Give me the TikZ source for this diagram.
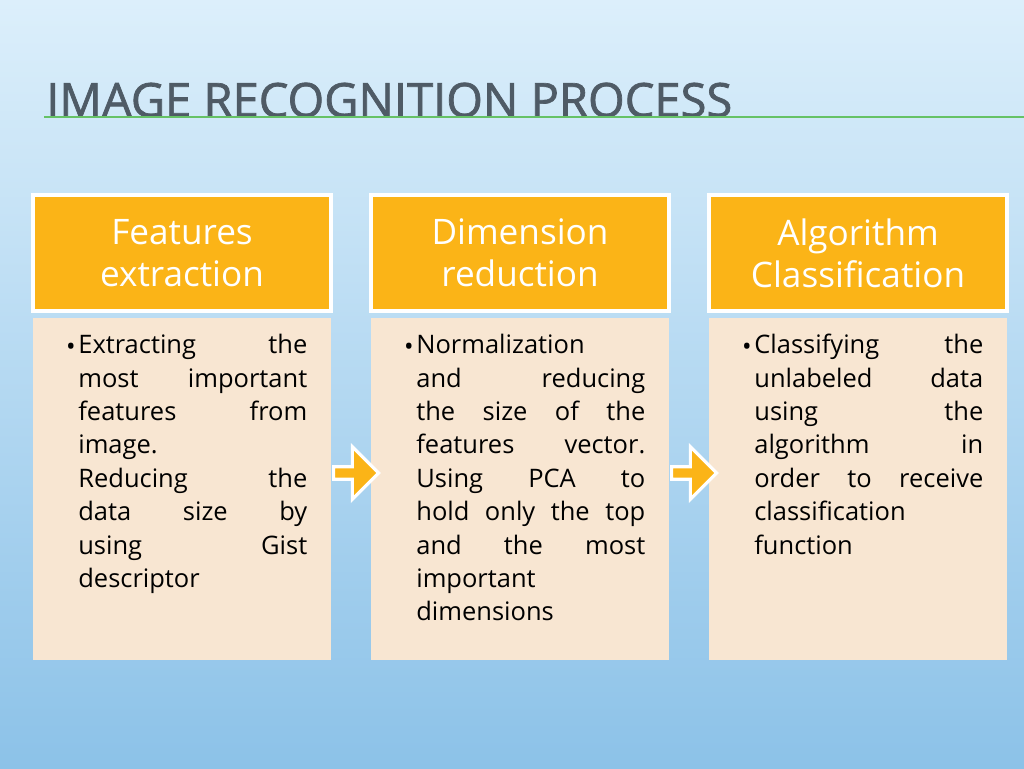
\documentclass[tikz,border=0pt]{standalone}
\usepackage{fontspec}
\setmainfont{Open Sans}
\usetikzlibrary{positioning,shapes.arrows}
\definecolor{hdrorange}{HTML}{FBB417}
\definecolor{bodypeach}{HTML}{F8E6D2}
\definecolor{titlegrey}{HTML}{4F5B66}
\definecolor{bgtop}{HTML}{DCEFFB}
\definecolor{bgbot}{HTML}{8CC2E8}
\tikzset{
  hdrbox/.style={draw=white, line width=2.5pt, fill=hdrorange, minimum width=5.96cm, minimum height=2.32cm,
    text=white, align=center, font=\fontsize{20}{24}\selectfont},
  bodybox/.style={fill=bodypeach, minimum width=5.96cm, minimum height=6.84cm},
  bodytext/.style={text width=4.58cm, align=justify, font=\fontsize{14.5}{19}\selectfont, inner sep=0pt},
  bulletmark/.style={font=\fontsize{14.5}{19}\selectfont, inner sep=0pt, anchor=base east},
  stepar/.style={single arrow, draw=white, line width=1.8pt, fill=hdrorange, minimum width=1.05cm,
    single arrow head extend=0.1cm, minimum height=0.9cm, inner sep=0pt}
}
\begin{document}
\begin{tikzpicture}[x=0.02cm,y=-0.02cm]
  \shade[top color=bgtop, bottom color=bgbot] (0,0) rectangle (1024,768);
  \useasboundingbox (0,0) rectangle (1024,768);
  % title
  \node[anchor=west, text=titlegrey, inner sep=0pt] (title) at (46,100)
    {\resizebox{13.72cm}{!}{\fontsize{28}{30}\selectfont\addfontfeature{FakeBold=1.5}IMAGE RECOGNITION PROCESS}};
  \coordinate (lineL) at (44,117);
  \coordinate (lineR) at (1024,117);
  \draw[green!60!black!60, line width=0.6pt] (lineL) -- (lineR);
  % columns
  \node[bodybox] (body1) at (182,489) {};
  \node[bodybox] (body2) at (520,489) {};
  \node[bodybox] (body3) at (858,489) {};
  \node[hdrbox] (head1) at (182,253) {Features\\extraction};
  \node[hdrbox] (head2) at (520,253) {Dimension\\reduction};
  \node[hdrbox] (head3) at (858,253) {Algorithm\\Classification};
  \node[bodytext, anchor=north west] (text1) at (78,334)
    {Extracting the\linebreak most important\linebreak features from\linebreak image.\newline Reducing the\linebreak data size by\linebreak using Gist\linebreak descriptor};
  \node[bodytext, anchor=north west] (text2) at (416,334)
    {Normalization\newline and reducing\linebreak the size of the\linebreak features vector.\linebreak Using PCA to\linebreak hold only the top\linebreak and the most\linebreak important\newline dimensions};
  \node[bodytext, anchor=north west] (text3) at (754,334)
    {Classifying the\linebreak unlabeled data\linebreak using the\linebreak algorithm in\linebreak order to receive\linebreak classification\newline function};
  \node[bulletmark] (dot1) at (76,355) {\textbullet\hspace{0.1cm}};
  \node[bulletmark] (dot2) at (414,355) {\textbullet\hspace{0.1cm}};
  \node[bulletmark] (dot3) at (752,355) {\textbullet\hspace{0.1cm}};
  % arrows
  \node[stepar] (arr1) at (353,473) {};
  \node[stepar] (arr2) at (691,473) {};
\end{tikzpicture}
\end{document}
